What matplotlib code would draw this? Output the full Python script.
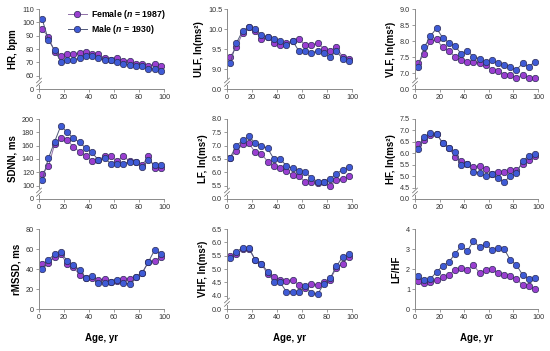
import numpy as np
import matplotlib.pyplot as plt

plt.rcParams['font.family'] = ['Liberation Sans', 'DejaVu Sans']
plt.rcParams['mathtext.fontset'] = 'custom'
plt.rcParams['mathtext.it'] = 'Liberation Sans:italic:bold'

# age group centres (5-year bins)
age = [2.5, 7.5, 12.5, 17.5, 22.5, 27.5, 32.5, 37.5, 42.5, 47.5,
       52.5, 57.5, 62.5, 67.5, 72.5, 77.5, 82.5, 87.5, 92.5, 97.5]

hr_f = [95, 89, 78, 75, 76, 76, 77, 78, 76, 76, 73, 72, 73, 71, 71, 69, 69, 67, 69, 67]
hr_m = [102.5, 87, 79, 70.5, 72, 72, 73, 75, 75, 73, 72, 72, 70, 69, 68, 67, 67, 65, 65, 63.5]

ulf_f = [9.3, 9.55, 9.9, 10.05, 9.95, 9.75, 9.8, 9.65, 9.6, 9.65,
         9.7, 9.75, 9.6, 9.6, 9.65, 9.5, 9.45, 9.55, 9.3, 9.25]
ulf_m = [9.15, 9.65, 9.95, 10.05, 10.0, 9.85, 9.8, 9.75, 9.7, 9.6,
         9.7, 9.45, 9.45, 9.4, 9.45, 9.4, 9.3, 9.45, 9.25, 9.2]

vlf_f = [7.3, 7.6, 8.0, 8.05, 7.8, 7.7, 7.5, 7.4, 7.35, 7.35,
         7.3, 7.25, 7.1, 7.05, 6.95, 6.95, 6.85, 6.95, 6.85, 6.85]
vlf_m = [7.2, 7.8, 8.15, 8.4, 8.1, 7.95, 7.85, 7.6, 7.7, 7.5,
         7.45, 7.35, 7.4, 7.3, 7.25, 7.2, 7.1, 7.3, 7.2, 7.35]

sdnn_f = [118, 129, 162, 172, 169, 158, 151, 145, 137, 139,
          144, 144, 137, 144, 137, 135, 131, 144, 127, 127]
sdnn_m = [108, 141, 166, 190, 180, 171, 165, 156, 150, 138,
          141, 133, 133, 133, 136, 136, 128, 138, 131, 131]

lf_f = [6.55, 6.8, 7.05, 7.1, 6.75, 6.7, 6.4, 6.25, 6.15, 6.05,
        5.9, 5.85, 5.65, 5.65, 5.6, 5.65, 5.5, 5.7, 5.75, 5.85]
lf_m = [6.55, 7.0, 7.2, 7.35, 7.1, 7.0, 6.9, 6.5, 6.5, 6.25,
        6.15, 6.05, 6.0, 5.8, 5.65, 5.65, 5.75, 5.95, 6.1, 6.2]

hf_f = [6.4, 6.6, 6.8, 6.85, 6.45, 6.25, 5.85, 5.65, 5.55, 5.4,
        5.45, 5.3, 5.1, 5.2, 5.2, 5.25, 5.25, 5.55, 5.7, 5.9]
hf_m = [6.2, 6.7, 6.9, 6.85, 6.45, 6.25, 6.05, 5.5, 5.55, 5.2,
        5.15, 5.0, 5.1, 4.9, 4.75, 5.0, 5.15, 5.65, 5.9, 5.95]

rmssd_f = [45, 46, 52, 55, 45, 42, 34, 31, 31, 29, 30, 27, 28, 30, 30, 32, 36, 47, 48, 52]
rmssd_m = [40, 49, 55, 57, 48, 44, 39, 31, 33, 26, 26, 27, 29, 26, 25, 32, 36, 47, 59, 55]

vhf_f = [5.5, 5.55, 5.75, 5.75, 5.35, 5.2, 4.8, 4.7, 4.6, 4.55,
         4.6, 4.4, 4.3, 4.45, 4.4, 4.5, 4.6, 5.05, 5.2, 5.45]
vhf_m = [5.4, 5.65, 5.8, 5.8, 5.35, 5.2, 4.9, 4.5, 4.5, 4.15,
         4.15, 4.15, 4.35, 4.1, 4.05, 4.45, 4.65, 5.1, 5.45, 5.55]

lfhf_f = [1.4, 1.3, 1.35, 1.45, 1.6, 1.7, 1.95, 2.05, 1.95, 2.2,
          1.8, 1.95, 2.0, 1.8, 1.7, 1.65, 1.5, 1.2, 1.15, 1.0]
lfhf_m = [1.65, 1.45, 1.5, 1.85, 2.15, 2.35, 2.75, 3.15, 2.9, 3.4,
          3.1, 3.25, 2.95, 3.05, 3.0, 2.45, 2.2, 1.7, 1.5, 1.55]

# label, female, male, y ticks (first one is the "0" below the break), tick labels, broken axis?
panels = [
    ("HR, bpm", hr_f, hr_m, [50, 60, 70, 80, 90, 100, 110],
     ["0", "60", "70", "80", "90", "100", "110"], True),
    ("ULF, ln(ms²)", ulf_f, ulf_m, [8.5, 9.0, 9.5, 10.0, 10.5],
     ["0.0", "9.0", "9.5", "10.0", "10.5"], True),
    ("VLF, ln(ms²)", vlf_f, vlf_m, [6.5, 7.0, 7.5, 8.0, 8.5, 9.0],
     ["0.0", "7.0", "7.5", "8.0", "8.5", "9.0"], True),
    ("SDNN, ms", sdnn_f, sdnn_m, [80, 100, 120, 140, 160, 180, 200],
     ["0", "100", "120", "140", "160", "180", "200"], True),
    ("LF, ln(ms²)", lf_f, lf_m, [5.0, 5.5, 6.0, 6.5, 7.0, 7.5, 8.0],
     ["0.0", "5.5", "6.0", "6.5", "7.0", "7.5", "8.0"], True),
    ("HF, ln(ms²)", hf_f, hf_m, [4.0, 4.5, 5.0, 5.5, 6.0, 6.5, 7.0, 7.5],
     ["0.0", "4.5", "5.0", "5.5", "6.0", "6.5", "7.0", "7.5"], True),
    ("rMSSD, ms", rmssd_f, rmssd_m, [0, 20, 40, 60, 80],
     ["0", "20", "40", "60", "80"], False),
    ("VHF, ln(ms²)", vhf_f, vhf_m, [3.5, 4.0, 4.5, 5.0, 5.5, 6.0, 6.5],
     ["0.0", "4.0", "4.5", "5.0", "5.5", "6.0", "6.5"], True),
    ("LF/HF", lfhf_f, lfhf_m, [0, 1, 2, 3, 4],
     ["0", "1", "2", "3", "4"], False),
]

W, H = 550, 351
fig = plt.figure(figsize=(5.5, 3.51), dpi=100)

lefts = [39, 227, 415]
rights = [164, 352, 538]
tops = [9, 119, 229]
bottoms = [89, 199, 309]

fem_c = '#9a3fd0'
male_c = '#3f5bd6'
edge_c = '#2a2a55'
axis_c = '#8a8a8a'

for i, (lab, yf, ym, ticks, tlabels, broken) in enumerate(panels):
    r, c = divmod(i, 3)
    ax = fig.add_axes([lefts[c] / W, 1 - bottoms[r] / H,
                       (rights[c] - lefts[c]) / W, (bottoms[r] - tops[r]) / H])
    ax.plot(age, yf, '-o', color='#9070a8', lw=0.7, ms=4.6,
            mfc=fem_c, mec=edge_c, mew=0.5, label='Female ($n$ = 1987)')
    ax.plot(age, ym, '-o', color='#505878', lw=0.7, ms=4.6,
            mfc=male_c, mec=edge_c, mew=0.5, label='Male ($n$ = 1930)')
    ax.set_xlim(0, 100)
    ax.set_ylim(ticks[0], ticks[-1])
    ax.set_xticks([0, 20, 40, 60, 80, 100])
    ax.set_yticks(ticks)
    ax.set_yticklabels(tlabels)
    for s in ['top', 'right']:
        ax.spines[s].set_visible(False)
    for s in ['left', 'bottom']:
        ax.spines[s].set_color(axis_c)
        ax.spines[s].set_linewidth(0.7)
    ax.tick_params(direction='out', length=2, width=0.6, color=axis_c,
                   labelsize=5.2, labelcolor='#333333', pad=1.5)
    ax.set_ylabel(lab, fontsize=7, fontweight='bold', labelpad=3)
    if r == 2:
        ax.set_xlabel('Age, yr', fontsize=7, fontweight='bold', labelpad=9)
    if broken:
        # break mark on the y axis just above the zero
        yb = 0.085
        ax.plot([0, 0], [yb - 0.025, yb + 0.025], transform=ax.transAxes,
                color='white', lw=1.5, clip_on=False, zorder=5)
        for dy in (-0.022, 0.022):
            ax.plot([-0.02, 0.02], [yb + dy - 0.03, yb + dy + 0.03],
                    transform=ax.transAxes, color='#666666', lw=0.5,
                    clip_on=False, zorder=6)
    if i == 0:
        ax.legend(loc='upper right', bbox_to_anchor=(1.06, 1.08), frameon=False,
                  prop={'size': 6.3, 'weight': 'bold'}, handlelength=2.2,
                  handletextpad=0.5, labelspacing=0.3, borderaxespad=0.2)

fig.savefig('out.png', dpi=100)
